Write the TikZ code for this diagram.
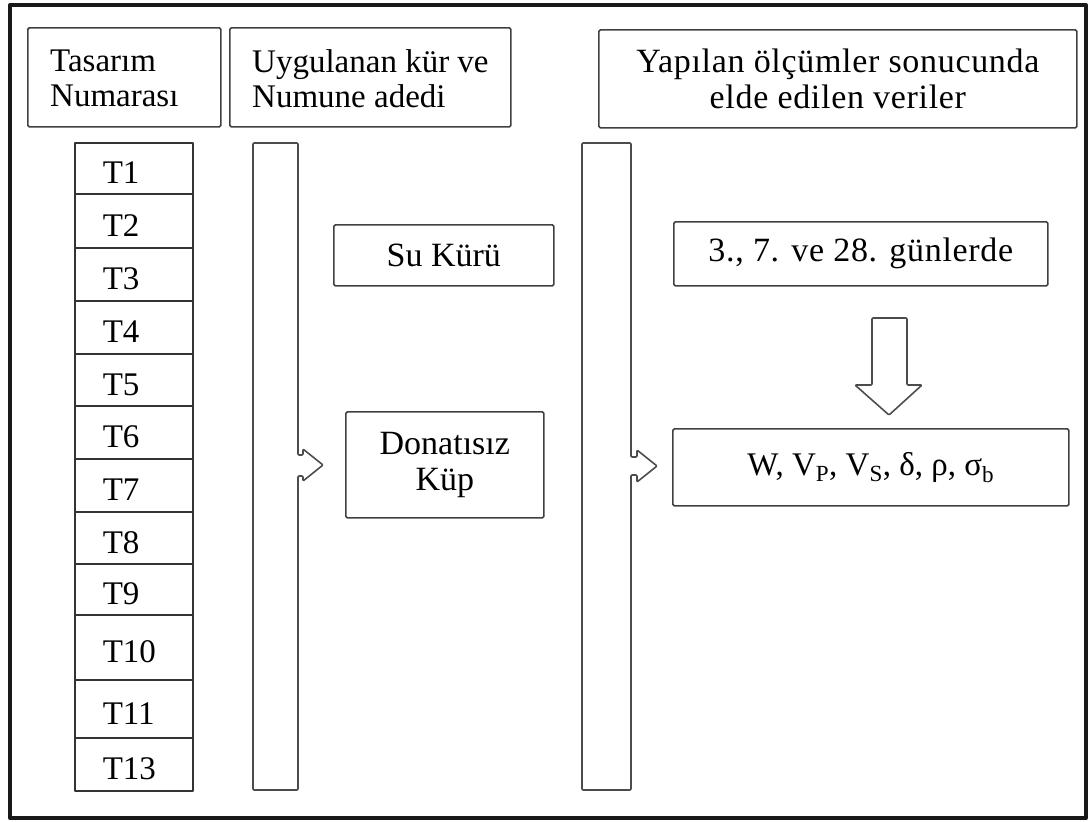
\documentclass[tikz,border=0pt]{standalone}
\usepackage{fontspec}
\setmainfont{Liberation Serif}
\begin{document}
\begin{tikzpicture}[x=1pt,y=-1pt,line join=round,
  box/.style={draw=black!75,line width=1.7pt,rounded corners=1.5pt,inner ysep=0pt,
    font=\fontsize{34}{36}\selectfont},
  lbl/.style={inner sep=0pt,align=left,anchor=west,font=\fontsize{33}{35}\selectfont},
  trow/.style={draw=black!80,line width=1.5pt,minimum width=118pt,text width=62pt,
    inner xsep=28pt,inner ysep=0pt,align=left,anchor=north west,
    text height=31pt,text depth=0pt,font=\fontsize{33}{35}\selectfont},
  blockarrow/.style={draw=black!70,line width=1.6pt,rounded corners=1pt}]
\useasboundingbox (0,0) rectangle (1090,822);
\draw[line width=4pt,black!90] (10,5) rectangle (1086,818);
% headers
\node[box,anchor=north west,minimum width=193pt,minimum height=99pt] (h1) at (27,27) {};
\node[lbl] (h1t) at ([xshift=23pt,yshift=-1pt]h1.west) {Tasarım\\Numarası};
\node[box,anchor=north west,minimum width=281pt,minimum height=99pt] (h2) at (229,27) {};
\node[lbl] (h2t) at ([xshift=23pt,yshift=-1pt]h2.west) {Uygulanan kür ve\\Numune adedi};
\node[box,anchor=north west,minimum width=478pt,minimum height=98pt,align=center]
  (h3) at (598,29) {\addfontfeatures{LetterSpace=2}Yapılan ölçümler sonucunda\\\addfontfeatures{LetterSpace=2}elde edilen veriler};
% T column
\node[trow,minimum height=51pt] (t1) at (74,142) {T1};
\node[trow,minimum height=54pt] (t2) at (74,193) {T2};
\node[trow,minimum height=53pt] (t3) at (74,247) {T3};
\node[trow,minimum height=53pt] (t4) at (74,300) {T4};
\node[trow,minimum height=52pt] (t5) at (74,353) {T5};
\node[trow,minimum height=53pt] (t6) at (74,405) {T6};
\node[trow,minimum height=53pt] (t7) at (74,458) {T7};
\node[trow,minimum height=52pt] (t8) at (74,511) {T8};
\node[trow,minimum height=51pt] (t9) at (74,563) {T9};
\node[trow,minimum height=65pt] (t10) at (74,614) {T10};
\node[trow,minimum height=58pt] (t11) at (74,679) {T11};
\node[trow,minimum height=53pt] (t13) at (74,737) {T13};
% tall block arrows
\draw[blockarrow] (253,143) -- (298,143) -- (298,455) -- (303,455) -- (303,449)
  -- (323,465) -- (303,481) -- (303,476) -- (298,476) -- (298,790) -- (253,790) -- cycle;
\draw[blockarrow] (582,143) -- (631,143) -- (631,457) -- (637,457) -- (637,450)
  -- (657,466) -- (637,482) -- (637,475) -- (631,475) -- (631,790) -- (582,790) -- cycle;
% middle column
\node[box,anchor=north west,minimum width=220pt,minimum height=61pt] (su) at (333,224) {Su Kürü};
\node[box,anchor=north west,minimum width=198pt,minimum height=106pt,align=center]
  (dk) at (345,411) {Donatısız\\Küp};
% right column
\node[box,anchor=north west,minimum width=374pt,minimum height=64pt] (gn) at (673,221)
  {\addfontfeatures{LetterSpace=2}3., 7. ve 28. günlerde};
\node[box,anchor=north west,minimum width=396pt,minimum height=77pt,
  font=\fontsize{33}{35}\selectfont] (wv) at (672,428)
  {W, V\textsubscript{P}, V\textsubscript{S}, δ, ρ, σ\textsubscript{b}};
\draw[blockarrow] (872,318) -- (907,318) -- (907,385) -- (922,385) -- (889,415)
  -- (855,385) -- (872,385) -- cycle;
\end{tikzpicture}
\end{document}
